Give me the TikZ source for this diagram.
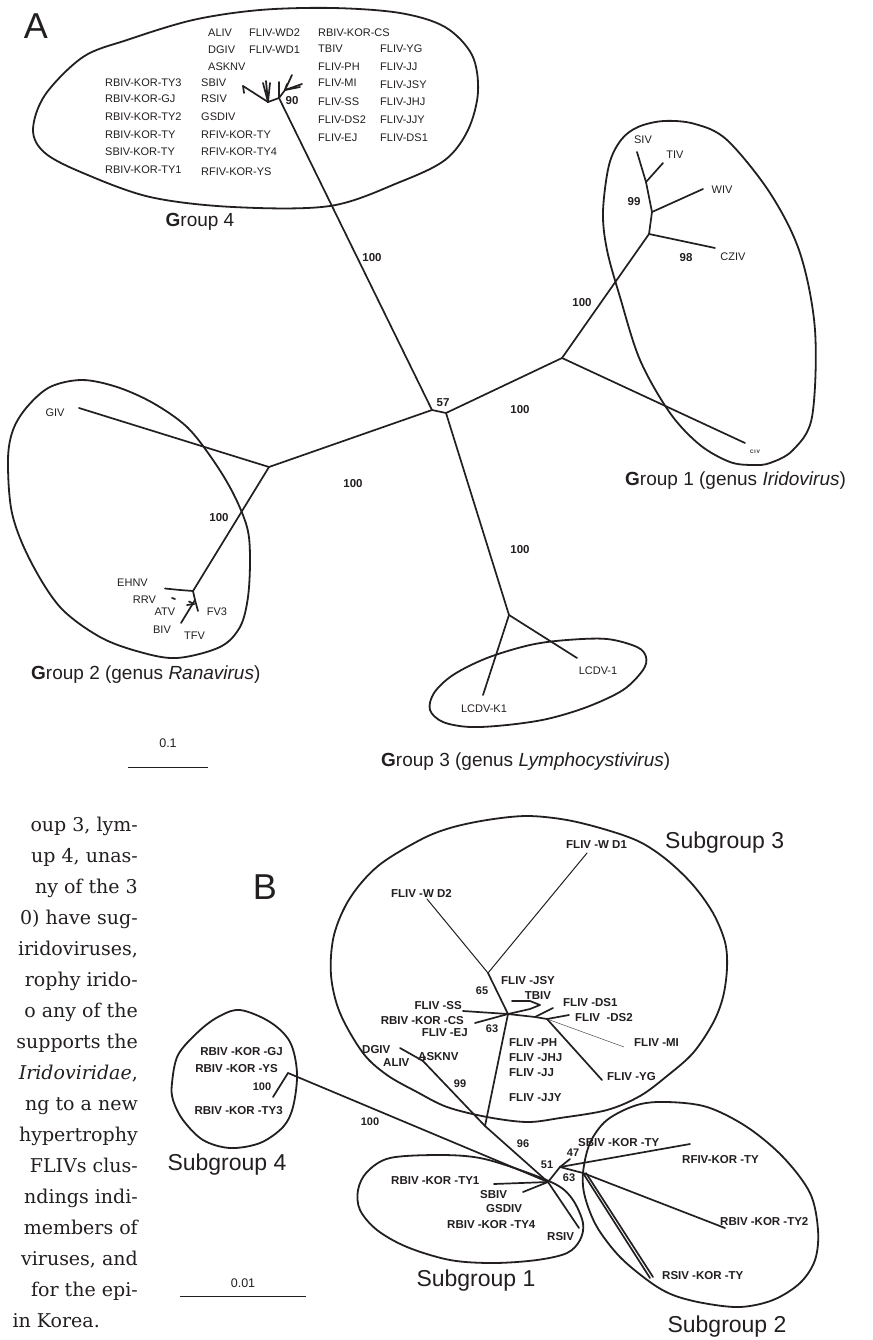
\documentclass[tikz,border=0pt]{standalone}
\usepackage{fontspec}
\setmainfont{Liberation Sans}
\newfontfamily\parafont{DejaVu Serif}
\definecolor{ink}{HTML}{231F20}
\begin{document}
\begin{tikzpicture}[x=1pt,y=-1pt,
  br/.style={draw=ink, line width=1.7pt, line cap=round, line join=round},
  thinbr/.style={draw=ink, line width=1pt, line cap=round},
  hair/.style={draw=ink, line width=0.4pt},
  grp/.style={draw=ink, line width=1.8pt, line join=round},
  lA/.style={inner sep=0, text=ink, font=\fontsize{11}{11}\selectfont},
  lB/.style={inner sep=0, text=ink, font=\bfseries\fontsize{11.5}{11.5}\selectfont},
  numA/.style={inner sep=0, text=ink, font=\bfseries\fontsize{11.5}{11.5}\selectfont},
  numB/.style={inner sep=0, text=ink, font=\bfseries\fontsize{11}{11}\selectfont},
  glab/.style={inner sep=0, text=ink, anchor=west, font=\fontsize{19}{19}\selectfont},
  sglab/.style={inner sep=0, text=ink, font=\fontsize{23}{23}\selectfont},
  panel/.style={inner sep=0, text=ink, font=\fontsize{36}{36}\selectfont},
  scl/.style={inner sep=0, text=ink, font=\fontsize{12.5}{12.5}\selectfont},
  para/.style={inner sep=0, text=ink, anchor=base east, font=\parafont\fontsize{19}{19}\selectfont}]
\useasboundingbox (0,0) rectangle (872,1340);
\fill[white] (0,0) rectangle (872,1340);

% ================= PANEL A =================
\node[panel] (lblA) at (36,26) {A};

% ---- tree nodes (A)
\coordinate (A57) at (432,410);
\coordinate (A57b) at (446,413);
\coordinate (N4) at (279,98);
\coordinate (G1n) at (562,358);
\coordinate (G1m) at (649,234);
\coordinate (G1w) at (652,212);
\coordinate (G1t) at (646,182);
\coordinate (G2n) at (269,467);
\coordinate (G2c) at (193,591);
\coordinate (G2d) at (195,600);
\coordinate (G2e) at (194,604);
\coordinate (G3n) at (509,615);

% ---- leaf ends (A)
\coordinate (eCIV) at (745,443);
\coordinate (eCZIV) at (715,248);
\coordinate (eWIV) at (703,189);
\coordinate (eTIV) at (663,163);
\coordinate (eSIV) at (637,152);
\coordinate (eGIV) at (79,408);
\coordinate (eEH1) at (180,590);
\coordinate (eEHNV) at (165,588.5);
\coordinate (eRRVa) at (172,598);
\coordinate (eRRVb) at (175,599);
\coordinate (eFV3) at (198,611);
\coordinate (eAT1) at (187,605);
\coordinate (eAT2) at (189,601.5);
\coordinate (eBIV) at (181,623);
\coordinate (eLC1) at (577,658);
\coordinate (eLCK) at (483,695);

% group 4 cluster
\coordinate (g4a) at (268,102);
\coordinate (g4l) at (243,86);
\coordinate (g4lt) at (244,93);
\coordinate (g4v1) at (263,83);
\coordinate (g4v2) at (266,81);
\coordinate (g4v3) at (270,83);
\coordinate (g4b) at (285,90);
\coordinate (g4b1) at (279,82);
\coordinate (g4b2) at (292,75);
\coordinate (g4b3) at (287,84);
\coordinate (g4b4) at (302,84);
\coordinate (g4b5) at (300,87);

% ---- branches (A)
\draw[br] (N4) -- (A57);
\draw[br] (A57) -- (A57b);
\draw[br] (A57) -- (G2n);
\draw[br] (A57b) -- (G1n);
\draw[br] (A57b) -- (G3n);
\draw[br] (G1n) -- (G1m);
\draw[br] (G1n) -- (eCIV);
\draw[br] (G1m) -- (eCZIV);
\draw[br] (G1m) -- (G1w);
\draw[br] (G1w) -- (eWIV);
\draw[br] (G1w) -- (G1t);
\draw[br] (G1t) -- (eTIV);
\draw[br] (G1t) -- (eSIV);
\draw[br] (G2n) -- (eGIV);
\draw[br] (G2n) -- (G2c);
\draw[br] (G2c) -- (eEH1);
\draw[br] (eEH1) -- (eEHNV);
\draw[br] (eRRVa) -- (eRRVb);
\draw[br] (G2c) -- (G2d);
\draw[br] (G2d) -- (eFV3);
\draw[br] (G2e) -- (eAT1);
\draw[br] (G2e) -- (eAT2);
\draw[br] (G2d) -- (eBIV);
\draw[br] (G3n) -- (eLC1);
\draw[br] (G3n) -- (eLCK);
\draw[br] (N4) -- (g4a);
\draw[br] (g4a) -- (g4l);
\draw[br] (g4l) -- (g4lt);
\draw[br] (g4a) -- (g4v1);
\draw[br] (g4a) -- (g4v2);
\draw[br] (g4a) -- (g4v3);
\draw[br] (N4) -- (g4b1);
\draw[br] (N4) -- (g4b);
\draw[br] (g4b) -- (g4b2);
\draw[br] (g4b) -- (g4b3);
\draw[br] (g4b) -- (g4b4);
\draw[br] (g4b) -- (g4b5);

% ---- group outlines (A)
\draw[grp] plot[smooth cycle, tension=0.55] coordinates {(33,130) (45,95) (83,57) (127,40) (193,20) (260,10) (333,8) (400,13) (445,27) (472,55) (478,92) (468,130) (445,160) (400,182) (330,206) (233,207) (150,197) (83,173) (45,153)};
\draw[grp] plot[smooth cycle, tension=0.55] coordinates {(621,140) (638,127) (664,121) (695,124) (727,140) (770,193) (800,253) (815,330) (812,417) (793,450) (770,463) (753,465) (730,462) (700,445) (670,413) (640,360) (620,297) (607,250) (603,212) (609,165)};
\draw[grp] plot[smooth cycle, tension=0.55] coordinates {(82,380) (117,387) (153,403) (187,427) (213,460) (233,493) (247,527) (250,557) (248,597) (240,627) (220,647) (177,658) (140,652) (100,637) (60,607) (30,560) (12,513) (8,460) (13,430) (27,407) (50,387)};
\draw[grp] plot[smooth cycle, tension=0.55] coordinates {(430,710) (434,693) (453,675) (487,658) (530,645) (567,640) (607,639) (637,647) (646,657) (643,670) (623,690) (587,707) (547,719) (507,725) (470,727) (443,722)};

% ---- labels (A) group 4
\node[lA, anchor=west] (tALIV) at (208,33) {ALIV};
\node[lA, anchor=west] (tWD2) at (249,33) {FLIV-WD2};
\node[lA, anchor=west] (tCS) at (318,33) {RBIV-KOR-CS};
\node[lA, anchor=west] (tDGIV) at (208,50) {DGIV};
\node[lA, anchor=west] (tWD1) at (249,50) {FLIV-WD1};
\node[lA, anchor=west] (tTBIV) at (318,49) {TBIV};
\node[lA, anchor=west] (tYG) at (380,49) {FLIV-YG};
\node[lA, anchor=west] (tASK) at (208,67) {ASKNV};
\node[lA, anchor=west] (tPH) at (318,67) {FLIV-PH};
\node[lA, anchor=west] (tJJ) at (380,67) {FLIV-JJ};
\node[lA, anchor=west] (tTY3) at (105,83) {RBIV-KOR-TY3};
\node[lA, anchor=west] (tSBIV) at (201,83) {SBIV};
\node[lA, anchor=west] (tMI) at (318,83) {FLIV-MI};
\node[lA, anchor=west] (tJSY) at (380,85) {FLIV-JSY};
\node[lA, anchor=west] (tGJ) at (105,99) {RBIV-KOR-GJ};
\node[lA, anchor=west] (tRSIV) at (201,99) {RSIV};
\node[lA, anchor=west] (tSS) at (318,102) {FLIV-SS};
\node[lA, anchor=west] (tJHJ) at (380,102) {FLIV-JHJ};
\node[lA, anchor=west] (tTY2) at (105,117) {RBIV-KOR-TY2};
\node[lA, anchor=west] (tGSD) at (201,117) {GSDIV};
\node[lA, anchor=west] (tDS2) at (318,120) {FLIV-DS2};
\node[lA, anchor=west] (tJJY) at (380,120) {FLIV-JJY};
\node[lA, anchor=west] (tTY) at (105,135) {RBIV-KOR-TY};
\node[lA, anchor=west] (tRFTY) at (201,135) {RFIV-KOR-TY};
\node[lA, anchor=west] (tEJ) at (318,138) {FLIV-EJ};
\node[lA, anchor=west] (tDS1) at (380,138) {FLIV-DS1};
\node[lA, anchor=west] (tSBTY) at (105,152) {SBIV-KOR-TY};
\node[lA, anchor=west] (tRFTY4) at (201,152) {RFIV-KOR-TY4};
\node[lA, anchor=west] (tTY1) at (105,170) {RBIV-KOR-TY1};
\node[lA, anchor=west] (tRFYS) at (201,172) {RFIV-KOR-YS};
\node[numA] (n90) at (292,101) {90};
\node[glab, anchor=center] (gl4) at (200,222) {\textbf{G}roup 4};

% ---- labels (A) others
\node[lA] (tSIV) at (643,140) {SIV};
\node[lA] (tTIV) at (675,155) {TIV};
\node[lA] (tWIV) at (722,190) {WIV};
\node[lA] (tCZIV) at (733,257) {CZIV};
\node[inner sep=0, text=ink, font=\bfseries\fontsize{5}{5}\selectfont] (tCIV) at (755,452) {C\,I\,V};
\node[numA] (n99) at (634,202) {99};
\node[numA] (n98) at (686,258) {98};
\node[numA] (n100a) at (582,303) {100};
\node[numA] (n100b) at (372,258) {100};
\node[numA] (n57) at (443,403) {57};
\node[numA] (n100c) at (520,410) {100};
\node[numA] (n100d) at (520,550) {100};
\node[numA] (n100e) at (219,518) {100};
\node[numA] (n100f) at (353,484) {100};
\node[lA] (tGIV) at (55,413) {GIV};
\node[lA] (tEHNV) at (132.5,583) {EHNV};
\node[lA] (tRRV) at (144.5,600) {RRV};
\node[lA] (tATV) at (165,612) {ATV};
\node[lA] (tFV3) at (217,612) {FV3};
\node[lA] (tBIV) at (162,630) {BIV};
\node[lA] (tTFV) at (194.5,636) {TFV};
\node[lA] (tLC1) at (598,671) {LCDV-1};
\node[lA] (tLCK) at (484,709) {LCDV-K1};
\node[glab] (gl1) at (625,481) {\textbf{G}roup 1 (genus \textit{Iridovirus})};
\node[glab] (gl2) at (31,675) {\textbf{G}roup 2 (genus \textit{Ranavirus})};
\node[glab] (gl3) at (381,762) {\textbf{G}roup 3 (genus \textit{Lymphocystivirus})};

% scale bar A
\node[scl] (s01) at (168,743) {0.1};
\coordinate (sA1) at (128,767);
\coordinate (sA2) at (208,767);
\draw[ink, line width=1pt] (sA1) -- (sA2);

% ================= PARAGRAPH =================
\node[para] (p1) at (138,831) {oup 3, lym-};
\node[para] (p2) at (138,862) {up 4, unas-};
\node[para] (p3) at (138,893) {ny of the 3};
\node[para] (p4) at (138,924) {0) have sug-};
\node[para] (p5) at (138,955) {iridoviruses,};
\node[para] (p6) at (138,986) {rophy irido-};
\node[para] (p7) at (138,1017) {o any of the};
\node[para] (p8) at (138,1048) {supports the};
\node[para] (p9) at (138,1079) {\itshape Iridoviridae\upshape,};
\node[para] (p10) at (138,1110) {ng to a new};
\node[para] (p11) at (138,1141) {hypertrophy};
\node[para] (p12) at (138,1172) {FLIVs clus-};
\node[para] (p13) at (138,1203) {ndings indi-};
\node[para] (p14) at (138,1234) {members of};
\node[para] (p15) at (138,1265) {viruses, and};
\node[para] (p16) at (138,1296) {for the epi-};
\node[para] (p17) at (100,1327) {in Korea.};

% ================= PANEL B =================
\node[panel] (lblB) at (265,887) {B};

% nodes (B)
\coordinate (b65) at (488,973);
\coordinate (b63) at (508,1014);
\coordinate (bX) at (535,1017);
\coordinate (bD) at (547,1019);
\coordinate (bJ) at (485,1126);
\coordinate (bA) at (423,1061);
\coordinate (bC) at (548,1182);
\coordinate (bS4) at (288,1073);
\coordinate (b51) at (560,1167);
\coordinate (b63b) at (583,1173);
\coordinate (b63c) at (586,1173);
% ends (B)
\coordinate (eWD1) at (587,853);
\coordinate (eWD2) at (427,899);
\coordinate (eSS) at (463,1011);
\coordinate (eCS) at (475,1023);
\coordinate (eDS1) at (553,1008);
\coordinate (eDS2) at (569,1015);
\coordinate (eMI) at (624,1047);
\coordinate (eYG) at (602,1080);
\coordinate (zT1) at (530,1009);
\coordinate (zT2) at (540,1005);
\coordinate (zT3) at (530,1001);
\coordinate (eTB) at (512,1001);
\coordinate (eDG) at (400,1048);
\coordinate (eASK) at (425,1057);
\coordinate (eS4) at (273,1097);
\coordinate (eTY1) at (494,1184);
\coordinate (eSB) at (523,1192);
\coordinate (eRS) at (579,1228);
\coordinate (eSBK) at (570,1159);
\coordinate (eRF) at (690,1144);
\coordinate (eTY2) at (725,1228);
\coordinate (eRSK) at (650,1278);
\coordinate (eRSK2) at (653,1277);

% branches (B)
\draw[thinbr] (b65) -- (eWD1);
\draw[thinbr] (b65) -- (eWD2);
\draw[br] (b65) -- (b63);
\draw[br] (eSS) -- (b63);
\draw[br] (eCS) -- (b63);
\draw[br] (b63) -- (bX) -- (bD);
\draw[br] (bX) -- (eDS1);
\draw[br] (bD) -- (eDS2);
\draw[hair] (bD) -- (eMI);
\draw[br] (bD) -- (eYG);
\draw[br] (b63) -- (zT1) -- (zT2) -- (zT3) -- (eTB);
\draw[br] (b63) -- (bJ);
\draw[br] (bJ) -- (bA);
\draw[br] (bA) -- (eDG);
\draw[br] (bA) -- (eASK);
\draw[br] (bJ) -- (bC);
\draw[br] (bC) -- (bS4);
\draw[br] (bS4) -- (eS4);
\draw[br] (bC) -- (eTY1);
\draw[br] (bC) -- (eSB);
\draw[br] (bC) -- (eRS);
\draw[br] (bC) -- (b51);
\draw[br] (b51) -- (eSBK);
\draw[br] (b51) -- (eRF);
\draw[br] (b51) -- (b63b);
\draw[br] (b63b) -- (eTY2);
\draw[br] (b63b) -- (eRSK);
\draw[br] (b63c) -- (eRSK2);

% subgroup outlines
\draw[grp] plot[smooth cycle, tension=0.55] coordinates {(340,1013) (331,975) (334,935) (350,898) (378,866) (420,840) (450,828) (487,820) (527,816) (567,820) (607,830) (640,842) (667,860) (693,885) (713,913) (725,942) (727,968) (723,997) (713,1023) (693,1053) (667,1076) (640,1096) (607,1110) (560,1118) (527,1122) (487,1117) (447,1107) (417,1092) (387,1075) (363,1053)};
\draw[grp] plot[smooth cycle, tension=0.55] coordinates {(240,1010) (270,1022) (290,1042) (297,1073) (293,1107) (283,1127) (260,1143) (230,1148) (203,1140) (183,1120) (173,1100) (172,1083) (178,1055) (198,1032) (218,1017)};
\draw[grp] plot[smooth cycle, tension=0.55] coordinates {(358,1190) (367,1172) (390,1158) (440,1155) (480,1158) (520,1170) (557,1185) (573,1200) (583,1223) (580,1240) (567,1253) (537,1260) (493,1263) (450,1260) (407,1247) (377,1230) (360,1210)};
\draw[grp] plot[smooth cycle, tension=0.55] coordinates {(583,1173) (590,1143) (607,1120) (637,1105) (667,1102) (707,1107) (747,1127) (783,1157) (810,1193) (818,1230) (815,1260) (800,1283) (773,1300) (740,1307) (703,1303) (673,1295) (650,1282) (620,1257) (597,1227) (585,1197)};

% labels (B)
\node[lB, anchor=west] (uWD1) at (566,845) {FLIV -W D1};
\node[lB, anchor=east] (uWD2) at (452,893) {FLIV -W D2};
\node[lB, anchor=west] (uJSY) at (501,981) {FLIV -JSY};
\node[lB] (uTB) at (538,996) {TBIV};
\node[lB, anchor=west] (uDS1) at (563,1003) {FLIV -DS1};
\node[lB, anchor=west] (uDS2) at (575,1018) {FLIV \ -DS2};
\node[lB, anchor=east] (uSS) at (462,1006) {FLIV -SS};
\node[lB, anchor=east] (uCS) at (464,1021) {RBIV -KOR -CS};
\node[lB, anchor=east] (uEJ) at (468,1033) {FLIV -EJ};
\node[lB, anchor=west] (uPH) at (509,1043) {FLIV -PH};
\node[lB, anchor=west] (uJHJ) at (509,1058) {FLIV -JHJ};
\node[lB, anchor=west] (uJJ) at (509,1073) {FLIV -JJ};
\node[lB, anchor=west] (uJJY) at (509,1098) {FLIV -JJY};
\node[lB, anchor=west] (uMI) at (634,1043) {FLIV -MI};
\node[lB, anchor=west] (uYG) at (607,1077) {FLIV -YG};
\node[lB, anchor=west] (uDG) at (362,1050) {DGIV};
\node[lB, anchor=west] (uAL) at (383,1063) {ALIV};
\node[lB, anchor=west] (uASK) at (418,1057) {ASKNV};
\node[lB, anchor=east] (uGJ) at (283,1052) {RBIV -KOR -GJ};
\node[lB, anchor=east] (uYS) at (278,1069) {RBIV -KOR -YS};
\node[lB, anchor=east] (uTY3) at (283,1111) {RBIV -KOR -TY3};
\node[lB, anchor=west] (uTY1) at (391,1181) {RBIV -KOR -TY1};
\node[lB, anchor=west] (uSB) at (480,1195) {SBIV};
\node[lB, anchor=west] (uGS) at (486,1209) {GSDIV};
\node[lB, anchor=west] (uTY4) at (447,1225) {RBIV -KOR -TY4};
\node[lB, anchor=west] (uRS) at (547,1237) {RSIV};
\node[lB, anchor=west] (uSBK) at (578,1143) {SBIV -KOR -TY};
\node[lB, anchor=west] (uRF) at (682,1160) {RFIV-KOR -TY};
\node[lB, anchor=west] (uTY2) at (720,1222) {RBIV -KOR -TY2};
\node[lB, anchor=west] (uRSK) at (662,1276) {RSIV -KOR -TY};
\node[numB] (m65) at (482,991) {65};
\node[numB] (m63) at (492,1029) {63};
\node[numB] (m99) at (460,1084) {99};
\node[numB] (m96) at (523,1144) {96};
\node[numB] (m100) at (370,1122) {100};
\node[numB] (m100s) at (262,1087) {100};
\node[numB] (m51) at (547,1165) {51};
\node[numB] (m47) at (573,1153) {47};
\node[numB] (m63b) at (569,1178) {63};
\node[sglab, anchor=west] (sg3) at (665,843) {Subgroup 3};
\node[sglab] (sg4) at (227,1165) {Subgroup 4};
\node[sglab] (sg1) at (476,1281) {Subgroup 1};
\node[sglab] (sg2) at (727,1327) {Subgroup 2};

% scale bar B
\node[scl] (s001) at (243,1283) {0.01};
\coordinate (sB1) at (180,1296);
\coordinate (sB2) at (306,1296);
\draw[ink, line width=1pt] (sB1) -- (sB2);
\end{tikzpicture}
\end{document}
